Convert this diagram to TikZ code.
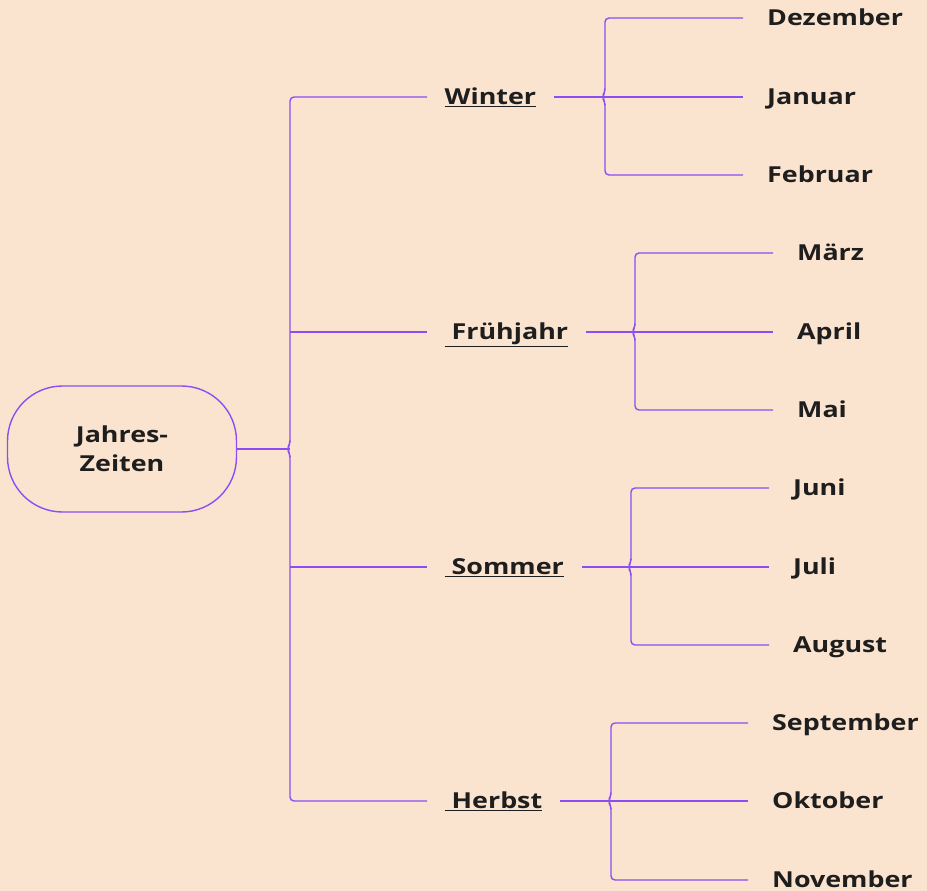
\documentclass[tikz,border=0pt]{standalone}
\usepackage{fontspec}
\setmainfont{Open Sans}[FakeStretch=1.22]
\usepackage{tikz}
\usetikzlibrary{positioning,calc}
\definecolor{bgpeach}{HTML}{FBE4CF}
\definecolor{mindpurple}{HTML}{8C4DF5}
\definecolor{inkdark}{HTML}{1E1E1E}
\newcommand{\mapfont}{\fontsize{22}{29}\selectfont\bfseries}

\begin{document}
\begin{tikzpicture}[x=1pt,y=-1pt,
    twig/.style={draw=mindpurple,line width=1.4pt,rounded corners=4pt},
    season/.style={anchor=west,inner xsep=17.5pt,inner ysep=0pt,text height=15.8pt,text depth=0pt,font=\mapfont,text=inkdark},
    month/.style={anchor=west,inner xsep=24pt,inner ysep=0pt,text height=15.8pt,text depth=0pt,font=\mapfont,text=inkdark}]
    % background
    \fill[bgpeach] (0,0) rectangle (927,891);
    \useasboundingbox (0,0) rectangle (927,891);
    % root
    \node[draw=mindpurple,line width=1.4pt,rounded corners=55pt,minimum width=229pt,minimum height=126pt,align=center,font=\mapfont,text=inkdark] (jahr) at (122,449) {Jahres-\\Zeiten};
    % seasons
    \node[season] (winter) at (427,97) {\underline{Winter}};
    \node[season] (fruehjahr) at (427,332) {\underline{\ Frühjahr}};
    \node[season] (sommer) at (427,567) {\underline{\ Sommer}};
    \node[season] (herbst) at (427,801) {\underline{\ Herbst}};
    % months
    \node[month] (dez) at (743,18) {Dezember};
    \node[month] (jan) at (743,97) {Januar};
    \node[month] (feb) at (743,175) {Februar};
    \node[month] (mrz) at (773,253) {März};
    \node[month] (apr) at (773,332) {April};
    \node[month] (mai) at (773,410) {Mai};
    \node[month] (jun) at (769,488) {Juni};
    \node[month] (jul) at (769,567) {Juli};
    \node[month] (aug) at (769,645) {August};
    \node[month] (sep) at (748,723) {September};
    \node[month] (okt) at (748,801) {Oktober};
    \node[month] (nov) at (748,880) {November};
    % bracket corners
    \coordinate (tr) at (290,449);
    \coordinate (wb) at (605,97);
    \coordinate (fb) at (635,332);
    \coordinate (sb) at (631,567);
    \coordinate (hb) at (611,801);
    % trunk
    \draw[twig] (jahr.east) -- (tr);
    \draw[twig] (winter.west) -- (winter.west -| tr) -- ([yshift=5pt]tr) -- ([xshift=-3pt]tr) -- ([yshift=-5pt]tr) -- (herbst.west -| tr) -- (herbst.west);
    \draw[twig] (fruehjahr.west -| tr) -- (fruehjahr.west);
    \draw[twig] (sommer.west -| tr) -- (sommer.west);
    % winter
    \draw[twig] (winter.east) -- (jan.west);
    \draw[twig] (dez.west) -- (dez.west -| wb) -- ([yshift=5pt]jan.west -| wb) -- ([xshift=-3pt]jan.west -| wb) -- ([yshift=-5pt]jan.west -| wb) -- (feb.west -| wb) -- (feb.west);
    % fruehjahr
    \draw[twig] (fruehjahr.east) -- (apr.west);
    \draw[twig] (mrz.west) -- (mrz.west -| fb) -- ([yshift=5pt]apr.west -| fb) -- ([xshift=-3pt]apr.west -| fb) -- ([yshift=-5pt]apr.west -| fb) -- (mai.west -| fb) -- (mai.west);
    % sommer
    \draw[twig] (sommer.east) -- (jul.west);
    \draw[twig] (jun.west) -- (jun.west -| sb) -- ([yshift=5pt]jul.west -| sb) -- ([xshift=-3pt]jul.west -| sb) -- ([yshift=-5pt]jul.west -| sb) -- (aug.west -| sb) -- (aug.west);
    % herbst
    \draw[twig] (herbst.east) -- (okt.west);
    \draw[twig] (sep.west) -- (sep.west -| hb) -- ([yshift=5pt]okt.west -| hb) -- ([xshift=-3pt]okt.west -| hb) -- ([yshift=-5pt]okt.west -| hb) -- (nov.west -| hb) -- (nov.west);
\end{tikzpicture}
\end{document}
